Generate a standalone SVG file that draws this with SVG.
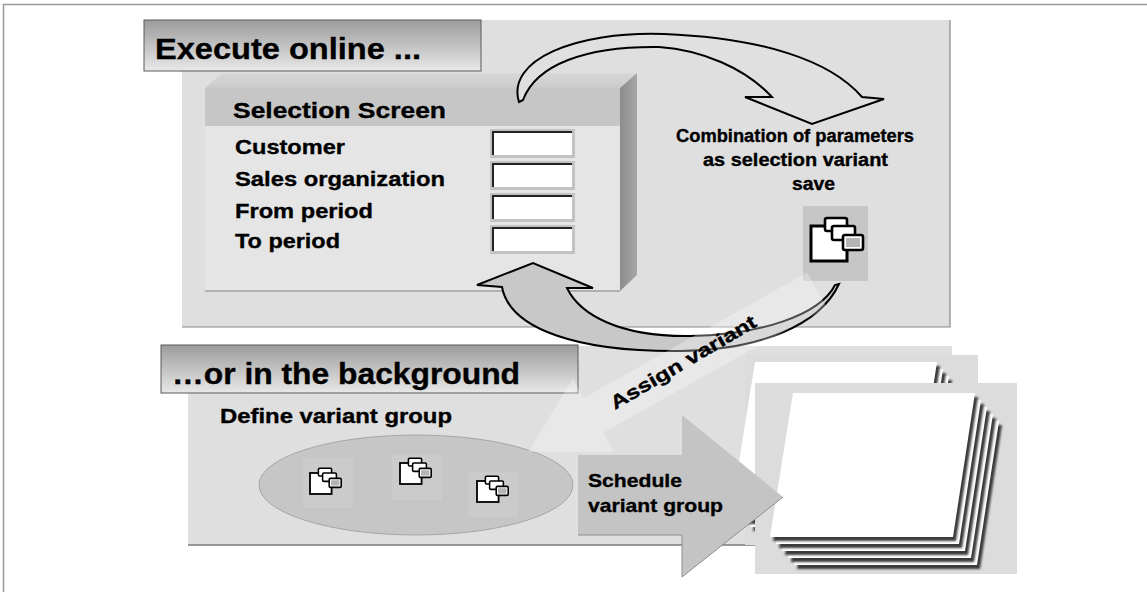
<svg xmlns="http://www.w3.org/2000/svg" xmlns:xlink="http://www.w3.org/1999/xlink" width="1147" height="592" viewBox="0 0 1147 592">
  <style>
    .t{font-family:"Liberation Sans",Arial,sans-serif;font-weight:bold;fill:#000;stroke:#000;stroke-width:0.35}
    .panel{fill:#dfdfdf}
    .title{fill:url(#titleGrad);stroke:#5a5a5a;stroke-width:1}
    .outline{stroke:#000;stroke-width:2;stroke-linejoin:miter}
  </style>
  <defs>
    <linearGradient id="titleGrad" x1="0" y1="0" x2="0" y2="1">
      <stop offset="0" stop-color="#9c9c9c"/>
      <stop offset="1" stop-color="#e8e8e8"/>
    </linearGradient>
    <linearGradient id="sideGrad" x1="0" y1="0" x2="1" y2="0">
      <stop offset="0" stop-color="#8c8c8c"/>
      <stop offset="1" stop-color="#a6a6a6"/>
    </linearGradient>
    <linearGradient id="bevelGrad" x1="0" y1="0" x2="0" y2="1">
      <stop offset="0" stop-color="#d8d8d8"/>
      <stop offset="1" stop-color="#cacaca"/>
    </linearGradient>
    <filter id="soft" x="-10%" y="-10%" width="120%" height="120%">
      <feGaussianBlur stdDeviation="0.9"/>
    </filter>
    <!-- variant icon: sheet with stacked tabs -->
    <symbol id="variantIcon" viewBox="0 0 60 48">
      <rect x="5" y="10" width="36" height="35" fill="#fff" stroke="#000" stroke-width="3"/>
      <rect x="19" y="2" width="22" height="13" rx="2" fill="#fff" stroke="#000" stroke-width="2.6"/>
      <rect x="26" y="10" width="23" height="14" rx="2" fill="#fff" stroke="#000" stroke-width="2.6"/>
      <rect x="37" y="19" width="20" height="15" rx="2" fill="#fff" stroke="#000" stroke-width="2.6"/>
      <rect x="40" y="22" width="14" height="9" fill="#b4b4b4"/>
    </symbol>
    <!-- one sheet of paper with its shadow -->
    <g id="sheet">
      <polygon points="0,0 182,0 160,144 -23,144" fill="#3a3a3a" transform="translate(3,4)" filter="url(#soft)"/>
      <polygon points="0,0 182,0 160,144 -23,144" fill="#fff"/>
    </g>
    <!-- input field -->
    <g id="field">
      <rect x="0" y="0" width="85" height="29" fill="#c2c2c2"/>
      <rect x="3" y="3" width="79" height="23" fill="#fff"/>
      <path d="M3,26 V3 H82" fill="none" stroke="#222" stroke-width="2"/>
    </g>
  </defs>

  <rect width="1147" height="592" fill="#fff"/>
  <rect x="3.5" y="4.5" width="1150" height="600" fill="none" stroke="#999" stroke-width="1.5"/>

  <!-- online section -->
  <g id="online-panel">
    <rect class="panel" x="182" y="20" width="768" height="307"/>
    <path d="M182,327 H950 V20" fill="none" stroke="#8a8a8a" stroke-width="1.2"/>
    <rect class="title" x="144" y="20" width="337" height="51"/>
    <text class="t" x="155" y="59" font-size="29" textLength="266" lengthAdjust="spacingAndGlyphs">Execute online ...</text>
  </g>

  <g id="selection-screen">
    <polygon points="205,88 222,73 637,73 620,88" fill="url(#bevelGrad)"/>
    <polygon points="620,88 637,73 637,275 620,291" fill="url(#sideGrad)"/>
    <rect x="205" y="88" width="415" height="203" fill="#e5e5e5"/>
    <rect x="205" y="88" width="415" height="38" fill="#c6c6c6"/>
    <line x1="205" y1="291" x2="620" y2="291" stroke="#b0b0b0" stroke-width="2"/>
    <text class="t" x="233" y="118" font-size="22.5" textLength="213" lengthAdjust="spacingAndGlyphs">Selection Screen</text>
    <text class="t" x="235" y="154" font-size="21" textLength="110" lengthAdjust="spacingAndGlyphs">Customer</text>
    <text class="t" x="235" y="186" font-size="21" textLength="210" lengthAdjust="spacingAndGlyphs">Sales organization</text>
    <text class="t" x="235" y="218" font-size="21" textLength="138" lengthAdjust="spacingAndGlyphs">From period</text>
    <text class="t" x="235" y="248" font-size="21" textLength="105" lengthAdjust="spacingAndGlyphs">To period</text>
    <use href="#field" x="490" y="129"/>
    <use href="#field" x="490" y="161"/>
    <use href="#field" x="490" y="193"/>
    <use href="#field" x="490" y="225"/>
  </g>

  <g id="save-variant">
    <text class="t" x="676" y="142" font-size="18" textLength="238" lengthAdjust="spacingAndGlyphs">Combination of parameters</text>
    <text class="t" x="703" y="166" font-size="18" textLength="185" lengthAdjust="spacingAndGlyphs">as selection variant</text>
    <text class="t" x="792" y="190" font-size="18" textLength="43" lengthAdjust="spacingAndGlyphs">save</text>
    <rect x="803" y="206" width="65" height="75" fill="#c6c6c6"/>
    <use href="#variantIcon" x="806" y="216" width="60" height="48"/>
  </g>

  <!-- background section -->
  <g id="background-panel">
    <rect class="panel" x="188" y="346" width="764" height="199"/>
    <line x1="188" y1="545" x2="760" y2="545" stroke="#7a7a7a" stroke-width="1.5"/>
    <rect class="title" x="161" y="345" width="417" height="48"/>
    <text class="t" x="172" y="384" font-size="29" textLength="348" lengthAdjust="spacingAndGlyphs">…or in the background</text>
    <text class="t" x="220" y="423" font-size="20" textLength="232" lengthAdjust="spacingAndGlyphs">Define variant group</text>
  </g>

  <g id="variant-group">
    <ellipse cx="416" cy="485" rx="157" ry="50" fill="#c6c6c6" stroke="#9a9a9a" stroke-width="0.8"/>
    <rect x="303" y="458" width="50" height="50" fill="#cbcbcb"/>
    <rect x="392" y="455" width="50" height="45" fill="#cbcbcb"/>
    <rect x="468" y="472" width="50" height="45" fill="#cbcbcb"/>
    <use href="#variantIcon" x="307" y="467" width="36" height="28.8"/>
    <use href="#variantIcon" x="397" y="457" width="36" height="28.8"/>
    <use href="#variantIcon" x="474" y="475" width="36" height="28.8"/>
  </g>

  <g id="spool-back">
    <rect x="745" y="355" width="233" height="190" fill="#dcdcdc"/>
    <use href="#sheet" x="779" y="390"/>
    <use href="#sheet" x="773" y="383"/>
    <use href="#sheet" x="767" y="376"/>
    <use href="#sheet" x="761" y="369"/>
    <use href="#sheet" x="755" y="362"/>
  </g>

  <g id="spool-front">
    <rect x="755" y="383" width="262" height="191" fill="#dcdcdc"/>
    <use href="#sheet" x="817" y="421"/>
    <use href="#sheet" x="811" y="414"/>
    <use href="#sheet" x="805" y="407"/>
    <use href="#sheet" x="799" y="400"/>
    <use href="#sheet" x="793" y="393"/>
  </g>

  <g id="connectors">
    <!-- save the selection as a variant -->
    <path class="outline" fill="#e0e0e0" d="M519,102 C506,60 575,31 664,34 C762,38 830,60 862,97 L884,99 L812,124 L745,97 L772,97 C745,68 702,50 659,47 C585,46 536,65 523,100 Z"/>
    <!-- variant fills the selection screen -->
    <path class="outline" fill="#c8c8c8" d="M502,287 C510,330 580,352 680,351 C760,350 820,325 839,284 L835,285 C820,315 760,335 690,336 C620,337 580,315 567,288 L593,288 L533,263 L477,285 Z"/>
    <!-- assign variant to the group -->
    <polygon points="807,272.6 826.8,307.4 603.2,432.7 613.9,451.9 528,452 572.9,378.7 583.6,397.9" fill="#fff" fill-opacity="0.3"/>
    <text class="t" transform="translate(615,410) rotate(-30.5)" font-size="19" textLength="166" lengthAdjust="spacingAndGlyphs">Assign variant</text>
    <!-- schedule the group -->
    <polygon points="578,455 682,455 682,415 783,497 682,577 682,535 578,535" fill="#c4c4c4"/>
    <path d="M578,535 H682 V577 L783,497" fill="none" stroke="#8e8e8e" stroke-width="1"/>
    <text class="t" x="588" y="487" font-size="19" textLength="94" lengthAdjust="spacingAndGlyphs">Schedule</text>
    <text class="t" x="588" y="512" font-size="19" textLength="135" lengthAdjust="spacingAndGlyphs">variant group</text>
  </g>
</svg>
